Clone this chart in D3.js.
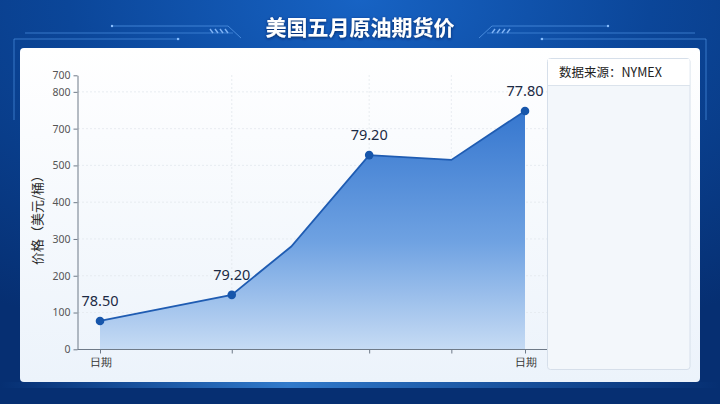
<!DOCTYPE html>
<html><head><meta charset="utf-8">
<script src="https://cdn.jsdelivr.net/npm/d3@7/dist/d3.min.js"></script>
<style>
html,body{margin:0;padding:0;background:#0a3d8c;}
svg{display:block;font-family:"Noto Sans CJK SC","Noto Sans",sans-serif;}
</style></head>
<body><svg id="c" width="720" height="404"></svg>
<script>
// ---- data ----
const title = "美国五月原油期货价";
const source = "数据来源：NYMEX";
const yTitle = "价格（美元/桶）";
const days = [0, 9.3, 13.5, 19, 24.8, 30];          // day offsets within May
const prices = [77, 148, 279.5, 528, 515, 648];      // plotted values
const pointLabels = ["78.50", "79.20", null, "79.20", null, "77.80"];
const xTickDays = [0, 9.3, 19, 24.8, 30];
const xTickLabels = ["日期", "", "", "", "日期"];
const yTickValues = [0, 100, 200, 300, 400, 500, 600, 700, 745];
const yTickLabels = ["0", "100", "200", "300", "400", "500", "700", "800", "700"];

const svg = d3.select("#c");
const defs = svg.append("defs");

// background
const bg = defs.append("radialGradient").attr("id","bg").attr("cx","50%").attr("cy","0%").attr("r","90%");
bg.append("stop").attr("offset","0%").attr("stop-color","#1763c4");
bg.append("stop").attr("offset","45%").attr("stop-color","#0b4699");
bg.append("stop").attr("offset","100%").attr("stop-color","#062f72");
svg.append("rect").attr("width",720).attr("height",404).attr("fill","url(#bg)");
const glow = defs.append("linearGradient").attr("id","glow").attr("x1",0).attr("x2",1);
glow.append("stop").attr("offset","0%").attr("stop-color","#3c9bff").attr("stop-opacity",0);
glow.append("stop").attr("offset","40%").attr("stop-color","#4aa6ff").attr("stop-opacity",0.9);
glow.append("stop").attr("offset","100%").attr("stop-color","#3c9bff").attr("stop-opacity",0);
svg.append("rect").attr("x",0).attr("y",382).attr("width",720).attr("height",6).attr("fill","url(#glow)").attr("opacity",0.7);

// header decoration
const deco = svg.append("g").attr("stroke","#4c8fe0").attr("fill","none").attr("stroke-width",1);
[[1,0],[-1,720]].forEach(([s,o])=>{
  const X = v => o + s*v;
  deco.append("line").attr("x1",X(112)).attr("x2",X(228)).attr("y1",26).attr("y2",26).attr("opacity",0.8);
  deco.append("line").attr("x1",X(228)).attr("x2",X(241)).attr("y1",26).attr("y2",38).attr("opacity",0.9);
  deco.append("line").attr("x1",X(25)).attr("x2",X(233)).attr("y1",33).attr("y2",33).attr("opacity",0.7);
  deco.append("path").attr("d",`M${X(14)},120 L${X(14)},39 L${X(180)},39`).attr("opacity",0.7);
  deco.append("circle").attr("cx",X(112)).attr("cy",26).attr("r",1.2).attr("fill","#8cc0ff").attr("stroke","none");
  deco.append("circle").attr("cx",X(178)).attr("cy",39).attr("r",1.2).attr("fill","#8cc0ff").attr("stroke","none");
  for(let i=0;i<4;i++){
    deco.append("line").attr("x1",X(210+i*5)).attr("x2",X(213+i*5)).attr("y1",29).attr("y2",33).attr("stroke","#7fb3f5").attr("stroke-width",1.4);
  }
});

// title
const sh = defs.append("filter").attr("id","sh");
sh.append("feDropShadow").attr("dx",0).attr("dy",1).attr("stdDeviation",1.5).attr("flood-color","#001a4d").attr("flood-opacity",0.8);
svg.append("text").attr("x",360).attr("y",35).attr("text-anchor","middle")
  .attr("font-size",21).attr("font-weight","bold").attr("fill","#ffffff").attr("filter","url(#sh)").text(title);

// card
const cg = defs.append("linearGradient").attr("id","card").attr("x1",0).attr("x2",0).attr("y1",0).attr("y2",1);
cg.append("stop").attr("offset","0%").attr("stop-color","#ffffff");
cg.append("stop").attr("offset","100%").attr("stop-color","#ecf3fb");
svg.append("rect").attr("x",20).attr("y",48).attr("width",680).attr("height",334).attr("rx",4).attr("fill","url(#card)");

// right panel
svg.append("rect").attr("x",547.5).attr("y",58.5).attr("width",142.5).attr("height",311).attr("rx",3)
  .attr("fill","#f3f7fb").attr("stroke","#d6dfea");
svg.append("rect").attr("x",548).attr("y",59).attr("width",141.5).attr("height",26).attr("fill","#ffffff");
svg.append("line").attr("x1",548).attr("x2",690).attr("y1",85.5).attr("y2",85.5).attr("stroke","#dbe3ec");
svg.append("text").attr("x",559).attr("y",77).attr("font-size",12.5).attr("fill","#222").text(source);

// scales
const x = d3.scaleLinear().domain([0,30]).range([100,525]);
const y = d3.scaleLinear().domain([0,745]).range([349.3,75.3]);

// grid
const grid = svg.append("g").attr("stroke","#e3e8ee").attr("stroke-dasharray","2,2").attr("stroke-width",0.8);
yTickValues.slice(1,8).forEach(v=>grid.append("line").attr("x1",78).attr("x2",547).attr("y1",y(v)).attr("y2",y(v)));
xTickDays.slice(1,4).forEach(v=>grid.append("line").attr("x1",x(v)).attr("x2",x(v)).attr("y1",75).attr("y2",349));

// area
const ag = defs.append("linearGradient").attr("id","area").attr("gradientUnits","userSpaceOnUse")
  .attr("x1",0).attr("x2",0).attr("y1",y(648)).attr("y2",y(0));
ag.append("stop").attr("offset","0%").attr("stop-color","#3677cf");
ag.append("stop").attr("offset","55%").attr("stop-color","#6fa2e2");
ag.append("stop").attr("offset","100%").attr("stop-color","#c6dbf4");
const pts = days.map((d,i)=>({d, v:prices[i], l:pointLabels[i]}));
svg.append("path").datum(pts).attr("fill","url(#area)")
  .attr("d", d3.area().x(p=>x(p.d)).y0(y(0)).y1(p=>y(p.v)));
svg.append("path").datum(pts).attr("fill","none").attr("stroke","#1f5cb2").attr("stroke-width",1.8)
  .attr("d", d3.line().x(p=>x(p.d)).y(p=>y(p.v)));

// axes
const yAxis = d3.axisLeft(y).tickValues(yTickValues).tickFormat((d,i)=>yTickLabels[i]).tickSize(4).tickSizeOuter(0);
const ya = svg.append("g").attr("transform","translate(77.5,0)").call(yAxis);
ya.select(".domain").attr("stroke","#6f7a88");
ya.selectAll(".tick line").attr("stroke","#6f7a88");
ya.selectAll("text").attr("font-size",10.5).attr("fill","#555").attr("font-family","'Noto Sans',sans-serif");

const xAxis = d3.axisBottom(x).tickValues(xTickDays).tickFormat((d,i)=>xTickLabels[i]).tickSize(4).tickSizeOuter(0);
const xa = svg.append("g").attr("transform","translate(0,349.5)").call(xAxis);
xa.select(".domain").attr("d","M77.5,0H547").attr("stroke","#6f7a88");
xa.selectAll(".tick line").attr("stroke","#6f7a88");
xa.selectAll("text").attr("font-size",10.5).attr("fill","#333").attr("dy","0.95em");

// y title
svg.append("text").attr("transform","translate(42,217) rotate(-90)").attr("text-anchor","middle")
  .attr("font-size",13).attr("fill","#2a2a2a").text(yTitle);

// points + labels
const labeled = pts.filter(p=>p.l);
svg.selectAll("circle.pt").data(labeled).enter().append("circle").attr("class","pt")
  .attr("cx",p=>x(p.d)).attr("cy",p=>y(p.v)).attr("r",4.3).attr("fill","#1756ab");
svg.selectAll("text.lbl").data(labeled).enter().append("text").attr("class","lbl")
  .attr("x",p=>x(p.d)).attr("y",p=>y(p.v)-15).attr("text-anchor","middle")
  .attr("font-size",14.5).attr("fill","#1b2a44").attr("font-family","'Noto Sans',sans-serif").text(p=>p.l);
</script></body></html>
